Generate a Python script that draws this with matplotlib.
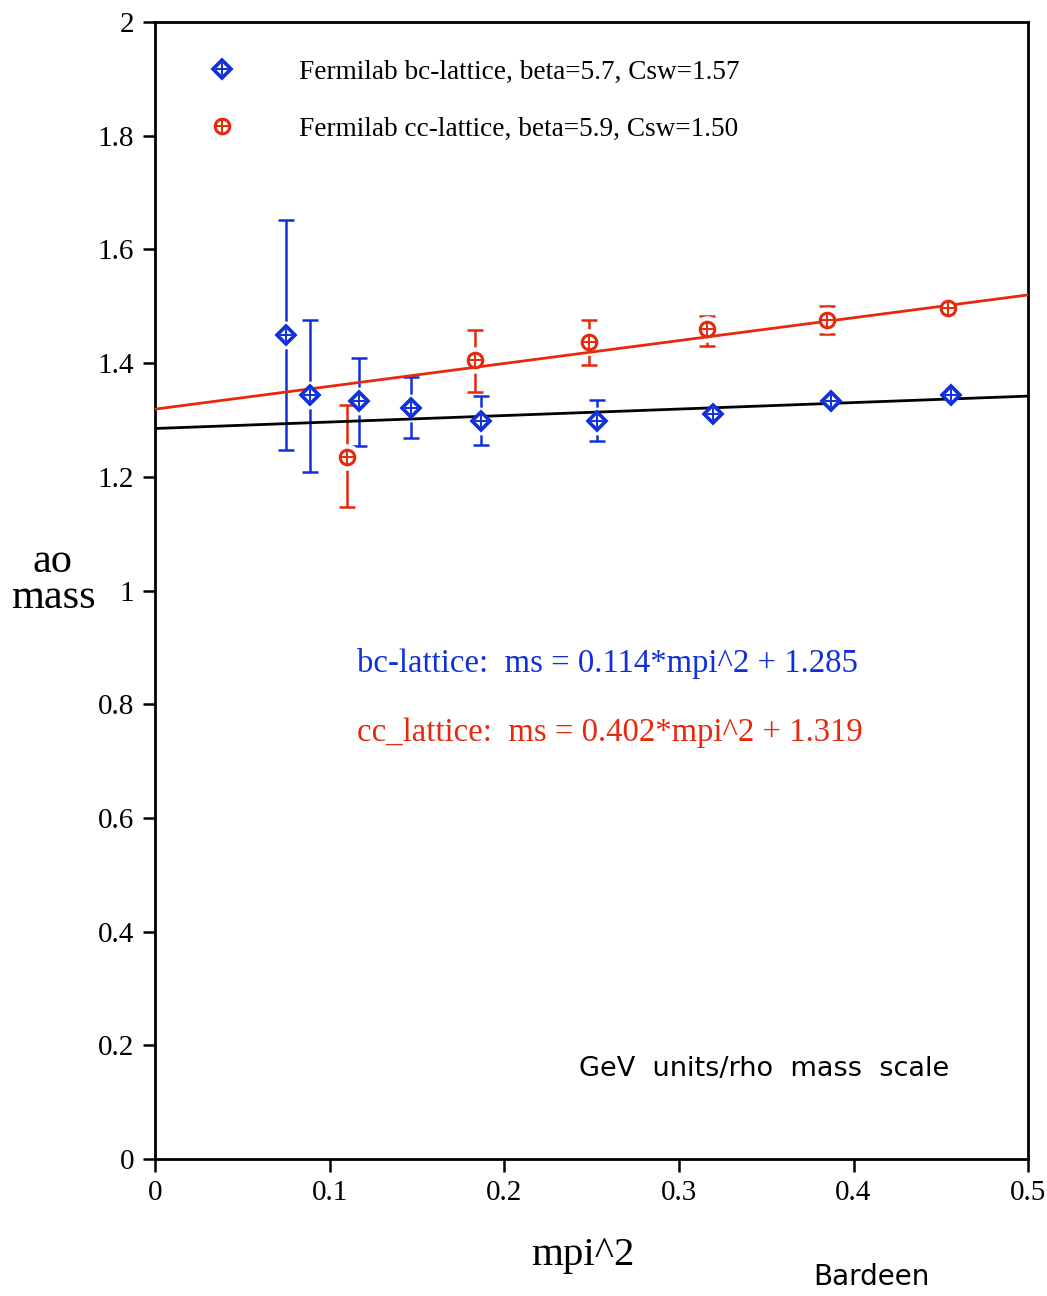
import matplotlib.pyplot as plt
from matplotlib.legend_handler import HandlerTuple
import numpy as np

plt.rcParams['font.family'] = ['Liberation Serif', 'DejaVu Serif']

BLUE = '#1030dc'
RED = '#e6280c'

# bc-lattice, beta=5.7
bc_x = [0.075, 0.0888, 0.117, 0.1466, 0.1867, 0.253, 0.3196, 0.387, 0.456]
bc_y = [1.449, 1.344, 1.333, 1.321, 1.298, 1.298, 1.310, 1.333, 1.344]
bc_lo = [1.247, 1.208, 1.254, 1.268, 1.256, 1.263, 1.310, 1.333, 1.344]
bc_hi = [1.652, 1.476, 1.409, 1.376, 1.342, 1.335, 1.310, 1.333, 1.344]

# cc-lattice, beta=5.9
cc_x = [0.110, 0.1833, 0.2486, 0.316, 0.385, 0.454]
cc_y = [1.235, 1.405, 1.437, 1.460, 1.476, 1.497]
cc_lo = [1.147, 1.349, 1.397, 1.430, 1.451, 1.497]
cc_hi = [1.326, 1.458, 1.476, 1.483, 1.500, 1.497]

# linear fits
bc_fit = (0.114, 1.285)
cc_fit = (0.402, 1.319)

fig = plt.figure(figsize=(10.47, 12.96), dpi=100)
ax = fig.add_axes([0.148, 0.1057, 0.834, 0.8773])

def draw_set(x, y, lo, hi, color, shape, ms, mew, halo, z):
    x = np.array(x); y = np.array(y)
    yerr = [y - np.array(lo), np.array(hi) - y]
    has = (yerr[0] > 0) | (yerr[1] > 0)
    ax.errorbar(x[has], y[has], yerr=[yerr[0][has], yerr[1][has]], fmt='none',
                ecolor=color, elinewidth=1.8, capsize=5.8, capthick=1.8, zorder=z)
    ax.plot(x, y, 'o', ms=halo, mfc='white', mec='none', zorder=z + 0.1)
    ax.plot(x, y, shape, ms=ms, mfc='white', mec=color, mew=mew, zorder=4)
    ax.plot(x, y, '+', ms=ms * 0.95, mec=color, mew=1.4, zorder=5)

draw_set(bc_x, bc_y, bc_lo, bc_hi, BLUE, 'D', 9.5, 2.6, 20, 1)
draw_set(cc_x, cc_y, cc_lo, cc_hi, RED, 'o', 10.5, 2.2, 19, 2)

xf = np.array([0.0, 0.5])
ax.plot(xf, bc_fit[0] * xf + bc_fit[1], color='black', lw=2, zorder=3)
ax.plot(xf, cc_fit[0] * xf + cc_fit[1], color=RED, lw=2, zorder=3)

# legend
h1 = (plt.Line2D([], [], ls='none', marker='D', ms=9.5, mfc='white', mec=BLUE, mew=2.6),
      plt.Line2D([], [], ls='none', marker='+', ms=9, mec=BLUE, mew=1.4))
h2 = (plt.Line2D([], [], ls='none', marker='o', ms=10.5, mfc='white', mec=RED, mew=2.2),
      plt.Line2D([], [], ls='none', marker='+', ms=10, mec=RED, mew=1.4))
ax.legend([h1, h2], ['Fermilab bc-lattice, beta=5.7, Csw=1.57',
                     'Fermilab cc-lattice, beta=5.9, Csw=1.50'],
          handler_map={tuple: HandlerTuple(ndivide=1)},
          loc='upper left', bbox_to_anchor=(0.0538, 0.967), borderpad=0,
          borderaxespad=0, frameon=False, fontsize=19.6, handlelength=1.5,
          handletextpad=2.05, labelspacing=1.17)

ax.text(0.1157, 0.8725, 'bc-lattice:  ms = 0.114*mpi^2 + 1.285', color=BLUE,
        fontsize=23.6, ha='left', va='center')
ax.text(0.1157, 0.749, 'cc_lattice:  ms = 0.402*mpi^2 + 1.319', color=RED,
        fontsize=23.6, ha='left', va='center')
ax.text(0.2428, 0.158, 'GeV  units/rho  mass  scale', family='DejaVu Sans',
        fontsize=19.5, ha='left', va='center')

ax.set_xlim(0, 0.5)
ax.set_ylim(0, 2)
ax.set_xticks(np.arange(0, 0.51, 0.1))
ax.set_xticklabels(['0', '0.1', '0.2', '0.3', '0.4', '0.5'])
ax.set_yticks(np.arange(0, 2.01, 0.2))
ax.set_yticklabels(['0', '0.2', '0.4', '0.6', '0.8', '1', '1.2', '1.4', '1.6', '1.8', '2'])
ax.tick_params(direction='out', length=9, width=1.8, labelsize=21, pad=6)
for s in ax.spines.values():
    s.set_linewidth(2)

fig.text(0.0506, 0.5525, 'ao\nmass', fontsize=30.5, ha='center', va='center',
         multialignment='center', linespacing=0.9)
fig.text(0.557, 0.0316, 'mpi^2', fontsize=29.5, ha='center', va='center')
fig.text(0.7765, 0.0147, 'Bardeen', family='DejaVu Sans', fontsize=20,
         ha='left', va='center')

fig.savefig('out.png', dpi=100)
